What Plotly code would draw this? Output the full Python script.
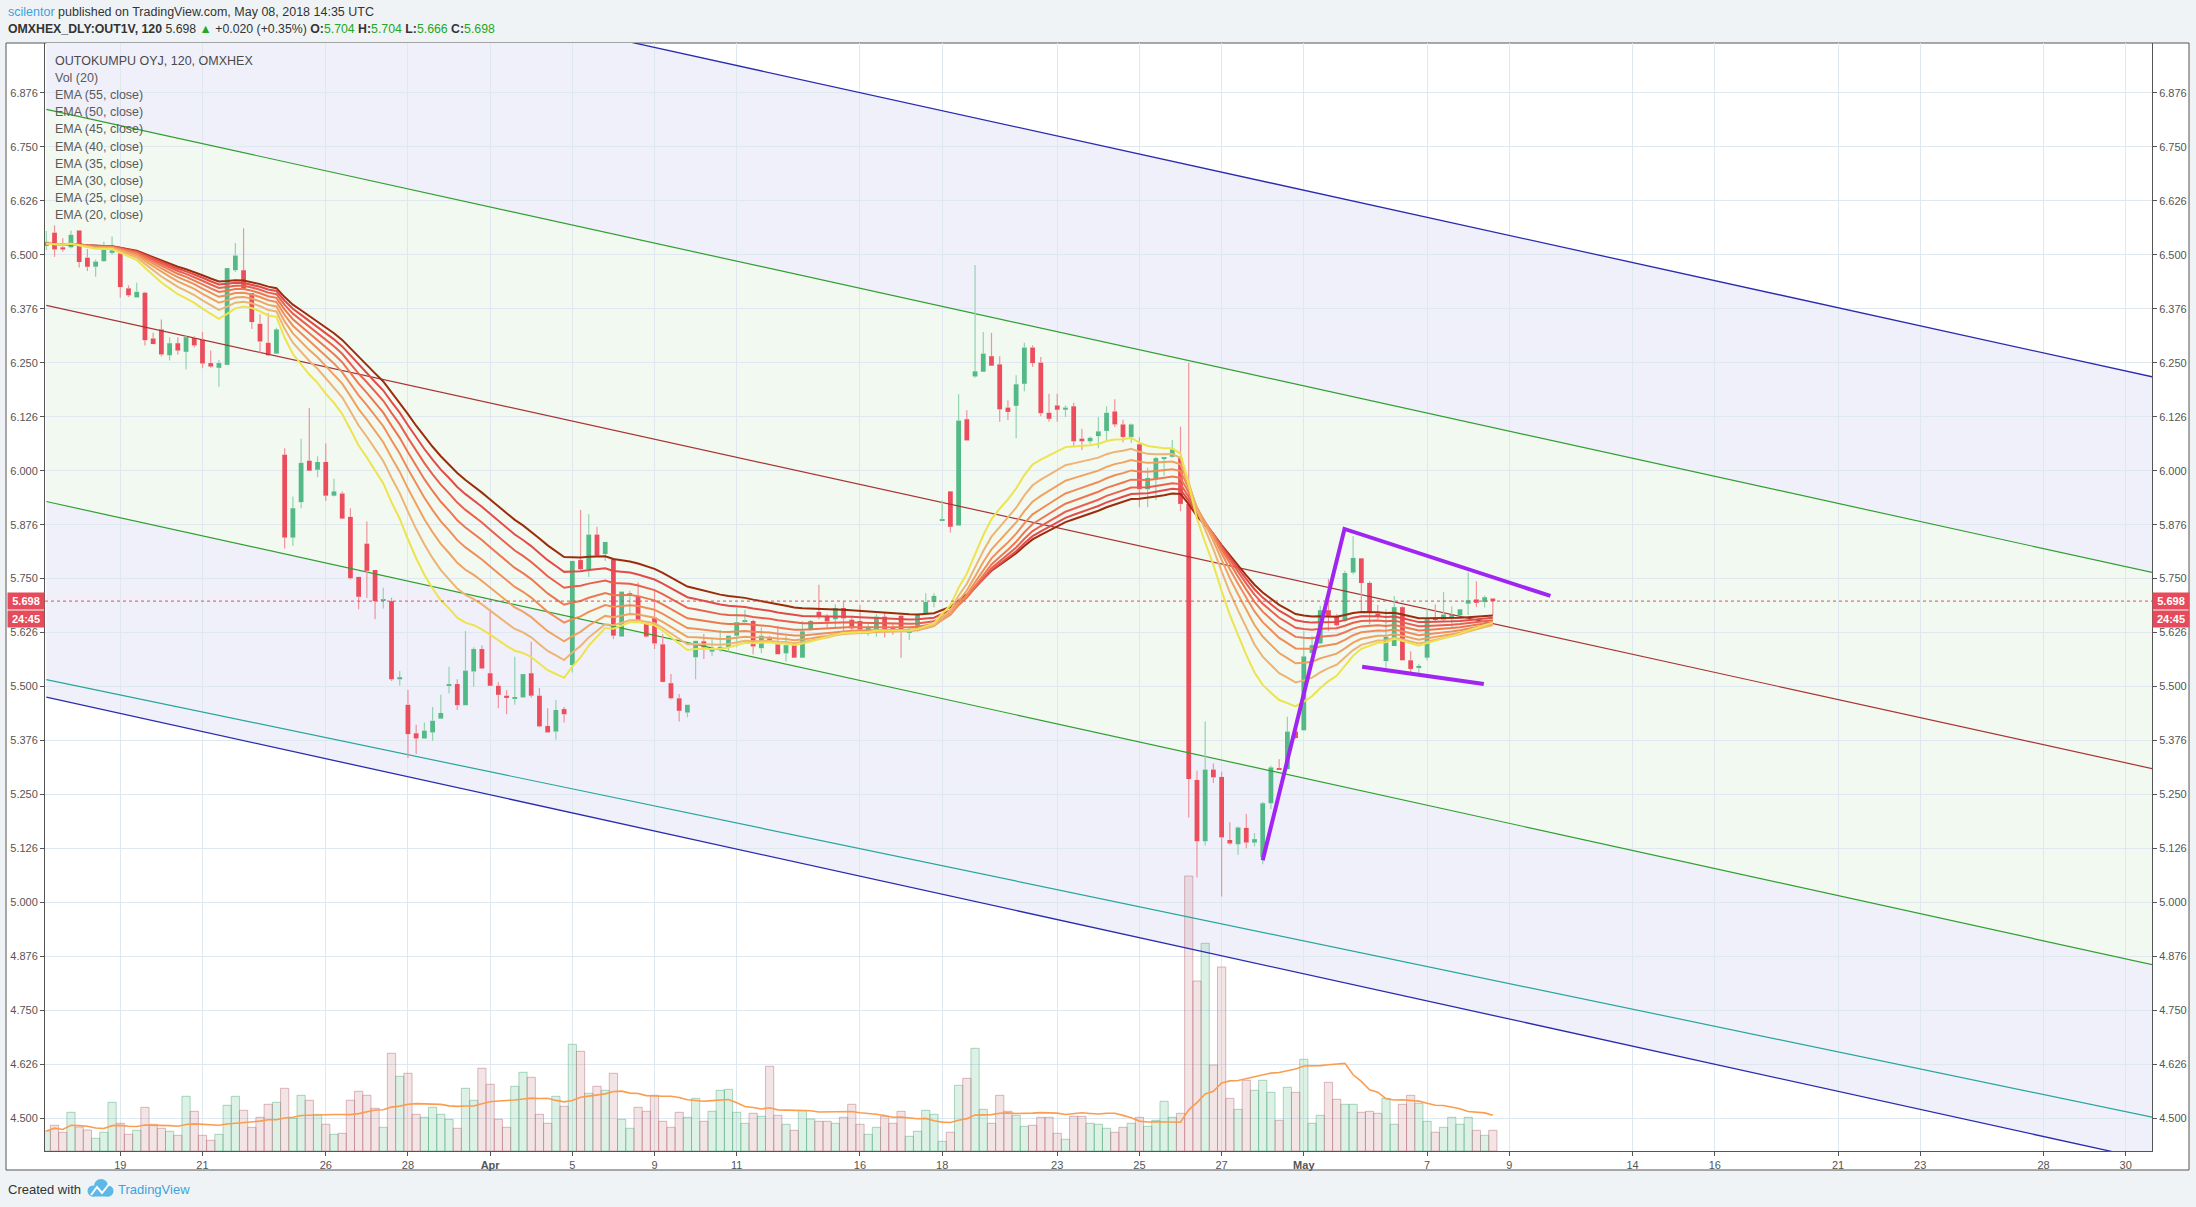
import numpy as np
import pandas as pd
import plotly.graph_objects as go

W, H = 2196, 1207
ML, MR, MT, MB = 45, 44, 43, 56

# --- OUT1V 120-minute bars ---
opens = [6.520, 6.551, 6.517, 6.517, 6.556, 6.493, 6.472, 6.485, 6.506, 6.503,
         6.422, 6.401, 6.412, 6.306, 6.327, 6.267, 6.295, 6.275, 6.307, 6.303,
         6.249, 6.238, 6.245, 6.464, 6.464, 6.411, 6.340, 6.296, 6.271, 6.037,
         5.845, 5.927, 6.023, 6.002, 6.020, 5.942, 5.947, 5.893, 5.754, 5.831,
         5.770, 5.699, 5.698, 5.517, 5.458, 5.392, 5.380, 5.394, 5.426, 5.502,
         5.506, 5.457, 5.535, 5.587, 5.531, 5.502, 5.479, 5.473, 5.475, 5.531,
         5.479, 5.409, 5.396, 5.448, 5.550, 5.793, 5.772, 5.852, 5.807, 5.795,
         5.616, 5.714, 5.710, 5.645, 5.660, 5.598, 5.508, 5.473, 5.440, 5.568,
         5.605, 5.581, 5.589, 5.591, 5.618, 5.651, 5.652, 5.589, 5.612, 5.598,
         5.577, 5.596, 5.567, 5.631, 5.673, 5.662, 5.656, 5.682, 5.655, 5.652,
         5.632, 5.632, 5.662, 5.635, 5.664, 5.625, 5.629, 5.670, 5.696, 5.884,
         5.952, 5.873, 6.119, 6.218, 6.229, 6.265, 6.246, 6.146, 6.150, 6.201,
         6.285, 6.250, 6.134, 6.151, 6.141, 6.149, 6.074, 6.068, 6.080, 6.092,
         6.137, 6.107, 6.078, 6.061, 5.957, 5.983, 6.027, 6.032, 6.029, 5.923,
         5.284, 5.142, 5.308, 5.291, 5.145, 5.135, 5.173, 5.139, 5.105, 5.230,
         5.311, 5.309, 5.396, 5.399, 5.578, 5.600, 5.677, 5.664, 5.652, 5.764,
         5.797, 5.740, 5.669, 5.559, 5.594, 5.684, 5.561, 5.544, 5.567, 5.658,
         5.655, 5.662, 5.665, 5.692, 5.702, 5.696, 5.704]
highs = [6.555, 6.568, 6.538, 6.556, 6.556, 6.513, 6.489, 6.530, 6.542, 6.507,
         6.429, 6.435, 6.414, 6.319, 6.350, 6.309, 6.309, 6.314, 6.311, 6.321,
         6.278, 6.256, 6.469, 6.527, 6.561, 6.411, 6.362, 6.365, 6.331, 6.052,
         5.940, 6.074, 6.145, 6.033, 6.063, 5.981, 5.952, 5.913, 5.754, 5.882,
         5.770, 5.729, 5.706, 5.536, 5.492, 5.412, 5.417, 5.453, 5.481, 5.546,
         5.517, 5.629, 5.591, 5.595, 5.679, 5.510, 5.492, 5.569, 5.529, 5.604,
         5.497, 5.450, 5.469, 5.453, 5.791, 5.909, 5.899, 5.870, 5.835, 5.798,
         5.720, 5.722, 5.741, 5.649, 5.722, 5.622, 5.529, 5.483, 5.458, 5.606,
         5.622, 5.610, 5.631, 5.618, 5.683, 5.678, 5.655, 5.637, 5.618, 5.641,
         5.618, 5.600, 5.652, 5.654, 5.736, 5.668, 5.691, 5.697, 5.664, 5.689,
         5.645, 5.668, 5.672, 5.646, 5.666, 5.637, 5.669, 5.716, 5.716, 5.931,
         5.952, 6.177, 6.140, 6.476, 6.321, 6.319, 6.265, 6.163, 6.221, 6.296,
         6.290, 6.263, 6.178, 6.178, 6.151, 6.157, 6.097, 6.079, 6.124, 6.149,
         6.165, 6.118, 6.109, 6.077, 6.007, 6.032, 6.032, 6.071, 6.102, 6.250,
         5.305, 5.419, 5.322, 5.303, 5.186, 5.176, 5.205, 5.161, 5.233, 5.317,
         5.332, 5.430, 5.398, 5.629, 5.618, 5.687, 5.749, 5.668, 5.768, 5.848,
         5.798, 5.744, 5.689, 5.679, 5.710, 5.686, 5.582, 5.553, 5.681, 5.690,
         5.719, 5.686, 5.680, 5.764, 5.744, 5.711, 5.704]
lows = [6.510, 6.495, 6.507, 6.515, 6.470, 6.462, 6.449, 6.483, 6.500, 6.400,
        6.402, 6.401, 6.290, 6.293, 6.265, 6.255, 6.269, 6.234, 6.285, 6.237,
        6.238, 6.194, 6.245, 6.460, 6.419, 6.328, 6.273, 6.265, 6.271, 5.820,
        5.826, 5.913, 6.000, 5.985, 5.930, 5.940, 5.889, 5.748, 5.679, 5.705,
        5.656, 5.681, 5.513, 5.502, 5.335, 5.344, 5.379, 5.375, 5.426, 5.484,
        5.446, 5.457, 5.500, 5.542, 5.502, 5.450, 5.436, 5.458, 5.475, 5.475,
        5.406, 5.394, 5.377, 5.417, 5.533, 5.768, 5.754, 5.803, 5.791, 5.610,
        5.616, 5.668, 5.652, 5.614, 5.587, 5.510, 5.470, 5.419, 5.429, 5.517,
        5.564, 5.571, 5.581, 5.581, 5.591, 5.649, 5.575, 5.577, 5.605, 5.575,
        5.558, 5.566, 5.566, 5.629, 5.656, 5.637, 5.638, 5.629, 5.631, 5.629,
        5.618, 5.615, 5.614, 5.620, 5.567, 5.608, 5.627, 5.668, 5.683, 5.883,
        5.857, 5.873, 6.070, 6.215, 6.229, 6.243, 6.113, 6.117, 6.075, 6.184,
        6.240, 6.126, 6.113, 6.113, 6.124, 6.056, 6.048, 6.062, 6.052, 6.070,
        6.101, 6.066, 6.064, 5.915, 5.915, 5.932, 5.988, 6.030, 5.906, 5.197,
        5.058, 5.132, 5.277, 5.014, 5.134, 5.111, 5.126, 5.130, 5.089, 5.217,
        5.307, 5.309, 5.379, 5.398, 5.575, 5.598, 5.629, 5.639, 5.649, 5.760,
        5.675, 5.644, 5.656, 5.544, 5.594, 5.561, 5.532, 5.531, 5.561, 5.652,
        5.653, 5.636, 5.663, 5.666, 5.684, 5.683, 5.666]
closes = [6.530, 6.512, 6.512, 6.546, 6.483, 6.472, 6.484, 6.512, 6.510, 6.425,
          6.406, 6.414, 6.302, 6.293, 6.269, 6.295, 6.278, 6.309, 6.290, 6.248,
          6.241, 6.249, 6.469, 6.498, 6.419, 6.344, 6.299, 6.267, 6.327, 5.845,
          5.913, 6.018, 6.000, 6.020, 5.942, 5.952, 5.889, 5.751, 5.708, 5.768,
          5.698, 5.700, 5.517, 5.522, 5.390, 5.380, 5.398, 5.421, 5.439, 5.505,
          5.457, 5.537, 5.587, 5.542, 5.502, 5.481, 5.475, 5.476, 5.529, 5.479,
          5.408, 5.394, 5.446, 5.436, 5.791, 5.772, 5.852, 5.803, 5.835, 5.618,
          5.720, 5.716, 5.652, 5.616, 5.600, 5.511, 5.473, 5.444, 5.458, 5.606,
          5.591, 5.587, 5.592, 5.618, 5.649, 5.652, 5.593, 5.618, 5.606, 5.575,
          5.596, 5.567, 5.628, 5.652, 5.662, 5.651, 5.682, 5.658, 5.635, 5.632,
          5.635, 5.662, 5.632, 5.632, 5.632, 5.629, 5.666, 5.696, 5.710, 5.885,
          5.870, 6.116, 6.070, 6.230, 6.271, 6.243, 6.142, 6.136, 6.200, 6.285,
          6.249, 6.133, 6.120, 6.141, 6.146, 6.068, 6.068, 6.076, 6.091, 6.134,
          6.107, 6.078, 6.107, 5.957, 5.983, 6.029, 6.029, 6.049, 5.923, 5.286,
          5.142, 5.308, 5.290, 5.151, 5.137, 5.174, 5.139, 5.147, 5.230, 5.313,
          5.308, 5.396, 5.381, 5.570, 5.596, 5.677, 5.664, 5.642, 5.763, 5.798,
          5.740, 5.671, 5.661, 5.615, 5.684, 5.561, 5.541, 5.548, 5.656, 5.655,
          5.667, 5.666, 5.679, 5.700, 5.694, 5.707, 5.698]
volumes = [200, 257, 187, 387, 240, 210, 127, 187, 487, 277,
           167, 207, 437, 267, 227, 197, 157, 547, 397, 157,
           107, 167, 457, 547, 407, 237, 337, 467, 487, 627,
           327, 557, 507, 367, 267, 167, 177, 507, 597, 557,
           427, 237, 977, 747, 777, 367, 337, 437, 367, 317,
           227, 627, 507, 827, 667, 317, 237, 647, 787, 737,
           367, 277, 547, 447, 1067, 997, 577, 647, 607, 777,
           317, 227, 437, 397, 557, 297, 237, 387, 337, 527,
           297, 397, 607, 617, 387, 277, 377, 347, 847, 357,
           267, 207, 407, 320, 297, 297, 277, 337, 467, 267,
           167, 237, 347, 277, 397, 147, 197, 407, 367, 97,
           187, 657, 727, 1027, 417, 277, 557, 397, 357, 247,
           257, 337, 337, 177, 117, 347, 347, 277, 267, 227,
           187, 237, 277, 337, 247, 307, 497, 337, 377, 2750,
           1700, 2077, 860, 1840, 527, 417, 707, 607, 707, 587,
           307, 637, 587, 917, 277, 357, 687, 517, 467, 467,
           387, 397, 377, 527, 267, 467, 557, 477, 297, 187,
           237, 337, 267, 337, 207, 157, 207]

# day-start bars and their labels (future days continue the bar grid)
tick_idx = [9, 19, 34, 44, 54, 64, 74, 84, 99, 109, 123, 133, 143, 153, 168, 178,
            193, 203, 218, 228, 243, 253]
tick_text = ["19", "21", "26", "28", "<b>Apr</b>", "5", "9", "11", "16", "18", "23",
             "25", "27", "<b>May</b>", "7", "9", "14", "16", "21", "23", "28", "30"]

price_ticks = [4.5 + 0.125 * k for k in range(20)]
price_labels = ["4.500", "4.626", "4.750", "4.876", "5.000", "5.126", "5.250", "5.376",
                "5.500", "5.626", "5.750", "5.876", "6.000", "6.126", "6.250", "6.376",
                "6.500", "6.626", "6.750", "6.876"]

ema_lengths = [55, 50, 45, 40, 35, 30, 25, 20]
ema_seed = 6.525
ema_colors = ["#9b2c0c", "#e34a4a", "#ea5f4e", "#ee7752", "#f08d58", "#f0a260",
              "#eeb476", "#ede34f"]

# regression channel drawn on the chart
chan_mid0, chan_slope = 6.3825, -0.004185
chan_inner, chan_outer = 0.454, 0.907
teal_y0, teal_slope = 5.5164, -0.003954

# purple flag drawing
flag_x = [148.0, 157.95, 183.0]
flag_y = [5.098, 5.865, 5.710]
flag_low_x = [160.1, 174.9]
flag_low_y = [5.546, 5.506]

X_RANGE = [-0.16, 256.2]
Y_RANGE = [4.425, 6.99]
VOL_RANGE = [0, 11080]

UP, DOWN = "#53b987", "#eb4d5c"
UP_WICK, DOWN_WICK = "#93d3b0", "#ef939c"
FONT = "Liberation Sans, Arial, sans-serif"
TXT = "#555555"


def fx(px):
    return (px - ML) / (W - ML - MR)


def fy(py):
    return (H - MB - py) / (H - MT - MB)


n = len(closes)
idx = np.arange(n)
o, h, l, c = (np.array(a) for a in (opens, highs, lows, closes))
up = c >= o

fig = go.Figure()

# --- volume (bottom overlay) ---
vol = np.array(volumes)
for mask, fill, edge in [(up, "rgba(83,185,135,0.20)", "rgba(83,170,120,0.45)"),
                         (~up, "rgba(200,130,140,0.22)", "rgba(185,120,130,0.50)")]:
    fig.add_trace(go.Bar(x=idx[mask], y=vol[mask], width=1.0,
                         marker=dict(color=fill, line=dict(color=edge, width=1)),
                         xaxis="x", yaxis="y", hoverinfo="skip"))
vol_ma = pd.Series(volumes).rolling(20, min_periods=1).mean()
fig.add_trace(go.Scatter(x=idx, y=vol_ma, mode="lines",
                         line=dict(color="#fb9d4f", width=1.6),
                         xaxis="x", yaxis="y", hoverinfo="skip"))

# --- channel lines ---
cx = np.array([0.0, 262.0])
mid = chan_mid0 + chan_slope * cx
for off, col, wd in [(chan_outer, "#2b2bb0", 1.3), (chan_inner, "#2f9f2f", 1.2),
                     (0.0, "#a83434", 1.2), (-chan_inner, "#2f9f2f", 1.2),
                     (-chan_outer, "#2b2bb0", 1.3)]:
    fig.add_trace(go.Scatter(x=cx, y=mid + off, mode="lines",
                             line=dict(color=col, width=wd),
                             xaxis="x", yaxis="y2", hoverinfo="skip"))
fig.add_trace(go.Scatter(x=cx, y=teal_y0 + teal_slope * cx, mode="lines",
                         line=dict(color="#26a69a", width=1.2),
                         xaxis="x", yaxis="y2", hoverinfo="skip"))

# --- candles: bodies as bars, wicks as segments outside the body ---
top = np.maximum(o, c)
bot = np.minimum(o, c)
for mask, body_col, wick_col in [(up, UP, UP_WICK), (~up, DOWN, DOWN_WICK)]:
    wx, wy = [], []
    for i in idx[mask]:
        wx += [i, i, None, i, i, None]
        wy += [h[i], top[i], None, bot[i], l[i], None]
    fig.add_trace(go.Scatter(x=wx, y=wy, mode="lines",
                             line=dict(color=wick_col, width=1.2),
                             xaxis="x", yaxis="y2", hoverinfo="skip"))
    fig.add_trace(go.Bar(x=idx[mask], y=np.maximum(top - bot, 0.0025)[mask],
                         base=bot[mask], width=0.58,
                         marker=dict(color=body_col, line=dict(width=0)),
                         xaxis="x", yaxis="y2", hoverinfo="skip"))

# --- EMA ribbon ---
for length, col in zip(ema_lengths, ema_colors):
    a = 2.0 / (length + 1)
    e, vals = ema_seed, []
    for v in closes:
        e = a * v + (1 - a) * e
        vals.append(e)
    fig.add_trace(go.Scatter(x=idx, y=vals, mode="lines",
                             line=dict(color=col, width=2),
                             xaxis="x", yaxis="y2", hoverinfo="skip"))

# --- purple flag drawing ---
for fxs, fys in [(flag_x, flag_y), (flag_low_x, flag_low_y)]:
    fig.add_trace(go.Scatter(x=fxs, y=fys, mode="lines",
                             line=dict(color="#a024f2", width=4),
                             xaxis="x", yaxis="y2", hoverinfo="skip"))

# invisible point so the right-hand price scale is drawn
fig.add_trace(go.Scatter(x=[idx[-1]], y=[closes[-1]], mode="markers",
                         marker=dict(opacity=0), xaxis="x", yaxis="y3",
                         hoverinfo="skip"))

# --- background shapes ---
shapes = [
    dict(type="rect", xref="paper", yref="paper", layer="below",
         x0=fx(6), x1=fx(2189), y0=fy(1170), y1=fy(43),
         fillcolor="white", line=dict(color="#555555", width=1)),
]


def band(off_hi, off_lo, color):
    x0, x1 = 0.0, 262.0
    pts = [(x0, chan_mid0 + chan_slope * x0 + off_hi),
           (x1, chan_mid0 + chan_slope * x1 + off_hi),
           (x1, chan_mid0 + chan_slope * x1 + off_lo),
           (x0, chan_mid0 + chan_slope * x0 + off_lo)]
    path = "M " + " L ".join(f"{px},{py}" for px, py in pts) + " Z"
    return dict(type="path", path=path, xref="x", yref="y2", layer="below",
                fillcolor=color, line=dict(width=0))


shapes.append(band(chan_outer, -chan_outer, "#f0f0fa"))
shapes.append(band(chan_inner, -chan_inner, "#f2f9f0"))
shapes.append(dict(type="line", xref="paper", yref="y2", x0=0, x1=1,
                   y0=closes[-1], y1=closes[-1],
                   line=dict(color="#e5485a", width=1, dash="dot")))

# TradingView cloud logo in the footer
for cxp, cyp, r in [(93, 1191, 5.5), (101, 1186, 7), (108, 1191, 5.5)]:
    shapes.append(dict(type="circle", xref="paper", yref="paper",
                       x0=fx(cxp - r), x1=fx(cxp + r), y0=fy(cyp + r), y1=fy(cyp - r),
                       fillcolor="#5cb8e6", line=dict(width=0)))
shapes.append(dict(type="rect", xref="paper", yref="paper",
                   x0=fx(92), x1=fx(109), y0=fy(1196.5), y1=fy(1189),
                   fillcolor="#5cb8e6", line=dict(width=0)))
shapes.append(dict(type="path", xref="paper", yref="paper",
                   path=f"M {fx(91)},{fy(1195)} L {fx(97)},{fy(1187)} L {fx(102)},{fy(1193)} "
                        f"L {fx(110)},{fy(1183)}",
                   line=dict(color="white", width=2)))

# --- text ---
annotations = []


def text(px, py, s, size=13, color="#333333", xanchor="left"):
    annotations.append(dict(xref="paper", yref="paper", x=fx(px), y=fy(py), text=s,
                            showarrow=False, xanchor=xanchor, yanchor="middle",
                            font=dict(family=FONT, size=size, color=color)))


G = "#22a822"
text(6, 12, "<span style='color:#3aa3dd'>scilentor</span> published on TradingView.com, "
            "May 08, 2018 14:35 UTC", size=12.5)
text(6, 29, f"<b>OMXHEX_DLY:OUT1V, 120</b> 5.698 <span style='color:{G}'>▲</span> "
            f"+0.020 (+0.35%) <b>O:</b><span style='color:{G}'>5.704</span> "
            f"<b>H:</b><span style='color:{G}'>5.704</span> "
            f"<b>L:</b><span style='color:{G}'>5.666</span> "
            f"<b>C:</b><span style='color:{G}'>5.698</span>", size=12.3)

legend_lines = ["OUTOKUMPU OYJ, 120, OMXHEX", "Vol (20)"] + \
               [f"EMA ({k}, close)" for k in ema_lengths]
for k, s in enumerate(legend_lines):
    text(53, 61 + 17.1 * k, s, size=12.5, color="#4a4a4a" if k == 0 else "#5a5a5a")

text(6, 1189, "Created with", size=13, color="#333333")
text(116, 1189, "TradingView", size=13, color="#3aa3dd")

# last-price and countdown labels on both scales
for xp, anchor in [(1.0, "left"), (0.0, "right")]:
    for s, shift in [(f"{closes[-1]:.3f}", 0), ("24:45", -18)]:
        annotations.append(dict(xref="paper", yref="y2", x=xp, y=closes[-1], text=f"<b>{s}</b>",
                                showarrow=False, xanchor=anchor, yanchor="middle",
                                yshift=shift, bgcolor="#e54b5b", borderpad=2, width=32,
                                font=dict(family=FONT, size=11, color="white")))

axis_font = dict(family=FONT, size=11, color=TXT)
price_axis = dict(range=Y_RANGE, tickvals=price_ticks, ticktext=price_labels,
                  showline=True, linecolor="#555555", linewidth=1,
                  ticks="outside", ticklen=4, tickcolor="#555555",
                  tickfont=axis_font, zeroline=False, fixedrange=True,
                  automargin=False)

fig.update_layout(
    width=W, height=H,
    margin=dict(l=ML, r=MR, t=MT, b=MB, autoexpand=False),
    paper_bgcolor="#f0f3f6", plot_bgcolor="white",
    showlegend=False, hovermode=False, barmode="overlay",
    xaxis=dict(range=X_RANGE, tickvals=tick_idx, ticktext=tick_text,
               showgrid=True, gridcolor="#e0e8ef", gridwidth=1,
               showline=True, linecolor="#555555", linewidth=1,
               ticks="outside", ticklen=4, tickcolor="#555555",
               tickfont=axis_font, zeroline=False, automargin=False),
    yaxis=dict(range=VOL_RANGE, visible=False, showgrid=False, automargin=False),
    yaxis2=dict(overlaying="y", side="left", showgrid=True, gridcolor="#e0e8ef",
                gridwidth=1, **price_axis),
    yaxis3=dict(overlaying="y", side="right", showgrid=False, **price_axis),
    shapes=shapes,
    annotations=annotations,
)

# drop the default 8px page margin so the figure fills the window exactly
fig.write_html("out.html",
               config={"displayModeBar": False},
               post_script="document.body.style.margin='0';"
                           "document.body.style.overflow='hidden';")
